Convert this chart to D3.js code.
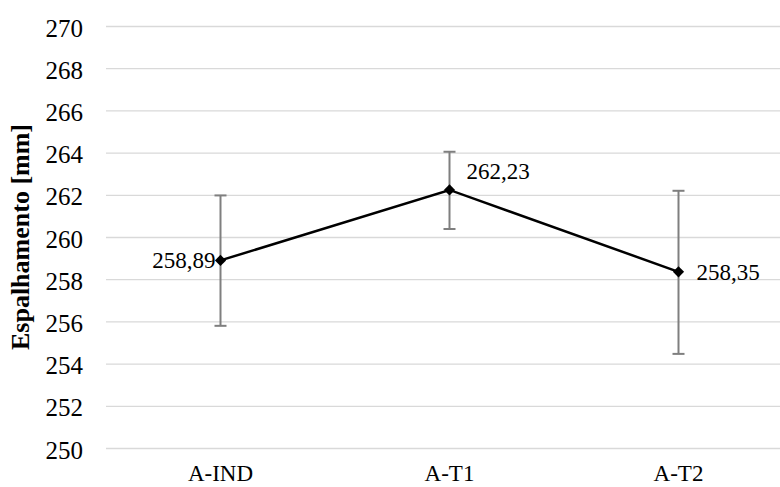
<!DOCTYPE html>
<html>
<head>
<meta charset="utf-8">
<script src="https://cdn.jsdelivr.net/npm/d3@7"></script>
<style>
  body { margin: 0; background: #fff; }
  svg text { font-family: "Times New Roman", "Liberation Serif", Tinos, serif; fill: #000; }
  .grid line { stroke: #d9d9d9; stroke-width: 1.3; }
  .grid path { display: none; }
</style>
</head>
<body>
<div id="chart"></div>
<script>
const categories = ["A-IND", "A-T1", "A-T2"]
const means = [258.89, 262.23, 258.35]
const errLow = [255.79, 260.38, 254.46]
const errHigh = [261.97, 264.04, 262.19]
const labels = ["258,89", "262,23", "258,35"]
const yTicks = [250, 252, 254, 256, 258, 260, 262, 264, 266, 268, 270]

const width = 780, height = 487
const margin = { top: 26, right: -13, bottom: 39, left: 106 }

const svg = d3.select("#chart").append("svg")
  .attr("width", width)
  .attr("height", height)

const x = d3.scalePoint()
  .domain(categories)
  .range([margin.left, width - margin.right])
  .padding(0.5)

const y = d3.scaleLinear()
  .domain([250, 270])
  .range([height - margin.bottom, margin.top])

// gridlines
svg.append("g")
  .attr("class", "grid")
  .attr("transform", `translate(${margin.left},0)`)
  .call(d3.axisLeft(y).tickValues(yTicks).tickSize(-(width - margin.left - margin.right)).tickFormat(""))

// y tick labels
svg.append("g")
  .selectAll("text")
  .data(yTicks)
  .join("text")
  .attr("x", 83)
  .attr("y", d => y(d))
  .attr("dy", "0.42em")
  .attr("text-anchor", "end")
  .style("font-size", "25px")
  .text(d => d)

// x labels
svg.append("g")
  .selectAll("text")
  .data(categories)
  .join("text")
  .attr("x", d => x(d))
  .attr("y", 481)
  .attr("text-anchor", "middle")
  .style("font-size", "23px")
  .text(d => d)

// y title
svg.append("text")
  .attr("transform", `translate(29,${(y(250) + y(270)) / 2}) rotate(-90)`)
  .attr("text-anchor", "middle")
  .style("font-size", "26px")
  .style("font-weight", "bold")
  .text("Espalhamento [mm]")

// error bars
const eb = svg.append("g").attr("stroke", "#7f7f7f").attr("stroke-width", 2)
categories.forEach((c, i) => {
  const cx = x(c)
  eb.append("line").attr("x1", cx).attr("x2", cx).attr("y1", y(errLow[i])).attr("y2", y(errHigh[i]))
  eb.append("line").attr("x1", cx - 6).attr("x2", cx + 6).attr("y1", y(errLow[i])).attr("y2", y(errLow[i]))
  eb.append("line").attr("x1", cx - 6).attr("x2", cx + 6).attr("y1", y(errHigh[i])).attr("y2", y(errHigh[i]))
})

// line
const line = d3.line()
  .x((d, i) => x(categories[i]))
  .y(d => y(d))

svg.append("path")
  .datum(means)
  .attr("fill", "none")
  .attr("stroke", "#000")
  .attr("stroke-width", 2.5)
  .attr("d", line)

// markers
svg.append("g")
  .selectAll("path")
  .data(means)
  .join("path")
  .attr("transform", (d, i) => `translate(${x(categories[i])},${y(d)})`)
  .attr("d", d3.symbol().type(d3.symbolDiamond2).size(80))
  .attr("fill", "#000")

// data labels
const lblPos = [
  { dx: -5, dy: 0, anchor: "end" },
  { dx: 17, dy: -19, anchor: "start" },
  { dx: 18, dy: 0, anchor: "start" }
]
svg.append("g")
  .selectAll("text")
  .data(means)
  .join("text")
  .attr("x", (d, i) => x(categories[i]) + lblPos[i].dx)
  .attr("y", (d, i) => y(d) + lblPos[i].dy)
  .attr("dy", "0.35em")
  .attr("text-anchor", (d, i) => lblPos[i].anchor)
  .style("font-size", "23px")
  .text((d, i) => labels[i])
</script>
</body>
</html>
